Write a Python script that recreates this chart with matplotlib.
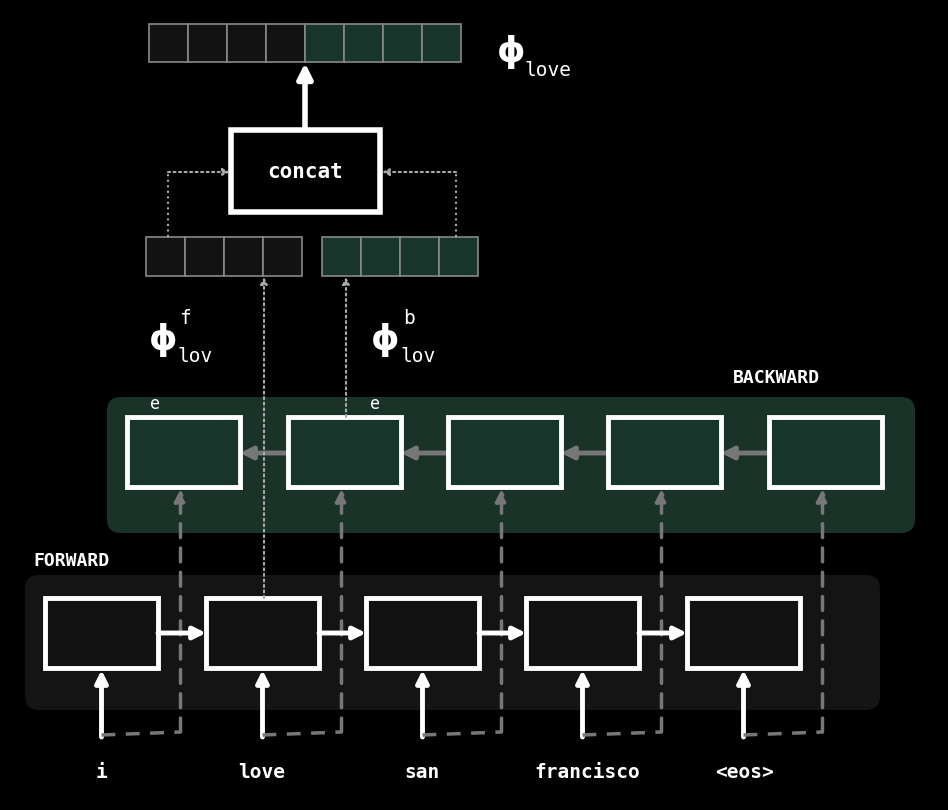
import matplotlib
matplotlib.use("Agg")
import matplotlib.pyplot as plt
from matplotlib.patches import Rectangle, FancyBboxPatch, FancyArrowPatch

words = ['i', 'love', 'san', 'francisco', '<eos>']
fwd_x = [45, 206, 366, 526, 687]
bwd_x = [127, 288, 448, 608, 769]
word_x = [102, 262, 422, 587, 745]
box_w, box_h = 113, 70
fwd_y, bwd_y = 598, 417

dark = '#121212'
green = '#17352a'
mono = 'DejaVu Sans Mono'

fig = plt.figure(figsize=(9.48, 8.1), dpi=100, facecolor='black')
ax = fig.add_axes([0, 0, 1, 1])
ax.set_xlim(0, 948)
ax.set_ylim(810, 0)
ax.axis('off')
ax.set_facecolor('black')

# panels
ax.add_patch(FancyBboxPatch((107, 397), 808, 136, boxstyle='round,pad=0,rounding_size=14',
                            fc='#1a3329', ec='none'))
ax.add_patch(FancyBboxPatch((25, 575), 855, 135, boxstyle='round,pad=0,rounding_size=14',
                            fc='#141414', ec='none'))
ax.text(33, 561, 'FORWARD', color='white', fontsize=13, fontweight='bold', family=mono, va='center')
ax.text(733, 378, 'BACKWARD', color='white', fontsize=13, fontweight='bold', family=mono, va='center')

def arrow(p0, p1, color, lw=3, ls='-', ms=18):
    ax.add_patch(FancyArrowPatch(p0, p1, arrowstyle='-|>', mutation_scale=ms, color=color,
                                 lw=lw, linestyle=ls, shrinkA=0, shrinkB=0))

for i, w in enumerate(words):
    ax.add_patch(Rectangle((fwd_x[i], fwd_y), box_w, box_h, fc=dark, ec='white', lw=3.5))
    ax.add_patch(Rectangle((bwd_x[i], bwd_y), box_w, box_h, fc=green, ec='white', lw=3.5))
    ax.text(word_x[i], 773, w, color='white', fontsize=14, fontweight='bold', family=mono,
            ha='center', va='center')
    cx = fwd_x[i] + box_w / 2
    bx = bwd_x[i] + box_w / 2 - 3
    arrow((cx, 737), (cx, fwd_y + box_h + 2), 'white', lw=3.5)
    ax.plot([cx, bx], [735, 732], color='#777777', lw=2.5, ls=(0, (4, 3)))
    arrow((bx, 732), (bx, bwd_y + box_h + 2), '#777777', lw=2.5, ls=(0, (4, 3)))
    if i < 4:
        arrow((fwd_x[i] + box_w, fwd_y + 35), (fwd_x[i + 1], fwd_y + 35), 'white', lw=3.5)
        arrow((bwd_x[i + 1], bwd_y + 36), (bwd_x[i] + box_w, bwd_y + 36), '#777777', lw=3.5)

ax.text(150, 404, 'e', color='white', fontsize=12, family=mono, va='center')
ax.text(370, 404, 'e', color='white', fontsize=12, family=mono, va='center')

# small vectors
def vector(x0, y0, n, cw, h, colors):
    for k in range(n):
        ax.add_patch(Rectangle((x0 + k * cw, y0), cw, h, fc=colors[k], ec='#888888', lw=1.2))

vector(146, 237, 4, 39, 39, [dark] * 4)
vector(322, 237, 4, 39, 39, [green] * 4)
vector(149, 24, 8, 39, 38, [dark] * 4 + [green] * 4)

# dotted feeds
arrow((264, fwd_y), (264, 277), '#aaaaaa', lw=1.5, ls=':', ms=10)
arrow((346, bwd_y), (346, 277), '#aaaaaa', lw=1.5, ls=':', ms=10)
ax.plot([168, 168], [237, 172], color='#aaaaaa', lw=1.5, ls=':')
arrow((168, 172), (230, 172), '#aaaaaa', lw=1.5, ls=':', ms=10)
ax.plot([456, 456], [237, 172], color='#aaaaaa', lw=1.5, ls=':')
arrow((456, 172), (382, 172), '#aaaaaa', lw=1.5, ls=':', ms=10)

ax.add_patch(Rectangle((231, 130), 149, 82, fc='black', ec='white', lw=4))
ax.text(305, 172, 'concat', color='white', fontsize=15, fontweight='bold', family=mono,
        ha='center', va='center')
arrow((305, 128), (305, 63), 'white', lw=4, ms=22)

ax.text(148, 340, r'$\mathbf{\phi}$', color='white', fontsize=26, va='center')
ax.text(179, 318, 'f', color='white', fontsize=14, family=mono, va='center')
ax.text(177, 356, 'lov', color='white', fontsize=14, family=mono, va='center')
ax.text(370, 340, r'$\mathbf{\phi}$', color='white', fontsize=26, va='center')
ax.text(403, 318, 'b', color='white', fontsize=14, family=mono, va='center')
ax.text(400, 356, 'lov', color='white', fontsize=14, family=mono, va='center')
ax.text(496, 52, r'$\mathbf{\phi}$', color='white', fontsize=26, va='center')
ax.text(524, 70, 'love', color='white', fontsize=14, family=mono, va='center')

fig.savefig('out.png', dpi=100, facecolor='black')
